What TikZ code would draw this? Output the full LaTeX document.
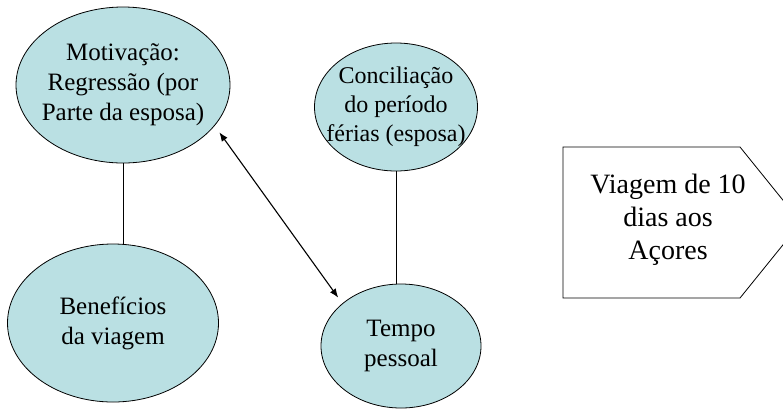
\documentclass[tikz,border=0pt]{standalone}
\usepackage{fontspec}
\setmainfont{Liberation Serif}
\usetikzlibrary{arrows.meta,shapes.geometric}
\definecolor{bubblefill}{RGB}{186,224,227}

\begin{document}
\begin{tikzpicture}[
    x=1pt, y=-1pt,
    bubble/.style={ellipse, draw, line width=0.8pt, fill=bubblefill, inner sep=-25pt, align=center, font=\fontsize{25}{30}\selectfont},
    smallbubble/.style={bubble, font=\fontsize{24}{29}\selectfont},
    trip/.style={align=center, font=\fontsize{28}{33}\selectfont},
    link/.style={line width=0.8pt},
    dblarr/.style={{Latex[length=9pt,width=7pt]}-{Latex[length=9pt,width=7pt]}, line width=1.1pt}
]
\useasboundingbox (0,0) rectangle (783,408);
\clip (0,0) rectangle (783,408);

\node[bubble, minimum width=214pt, minimum height=156pt] (mot) at (123,85) {Motivação:\\Regressão (por\\Parte da esposa)};
\node[smallbubble, minimum width=163pt, minimum height=128pt] (con) at (396,107) {Conciliação\\do período\\férias (esposa)};
\node[bubble, minimum width=211pt, minimum height=158pt] (ben) at (113,323) {Benefícios\\da viagem};
\node[bubble, minimum width=160pt, minimum height=124pt] (tem) at (401,346) {Tempo\\pessoal};

% pentagon
\draw[line width=0.8pt, fill=white] (563,147) -- (740,147) -- (801,222.5) -- (740,298) -- (563,298) -- cycle;
\node[trip] (via) at (668,220) {Viagem de 10\\dias aos\\Açores};

\draw[link] (mot.south) -- (mot.south |- ben.north);
\draw[link] (con.south) -- (con.south |- tem.north);
\draw[dblarr, shorten <=8pt, shorten >=7pt] (mot.-24) -- (tem.144);
\end{tikzpicture}
\end{document}
